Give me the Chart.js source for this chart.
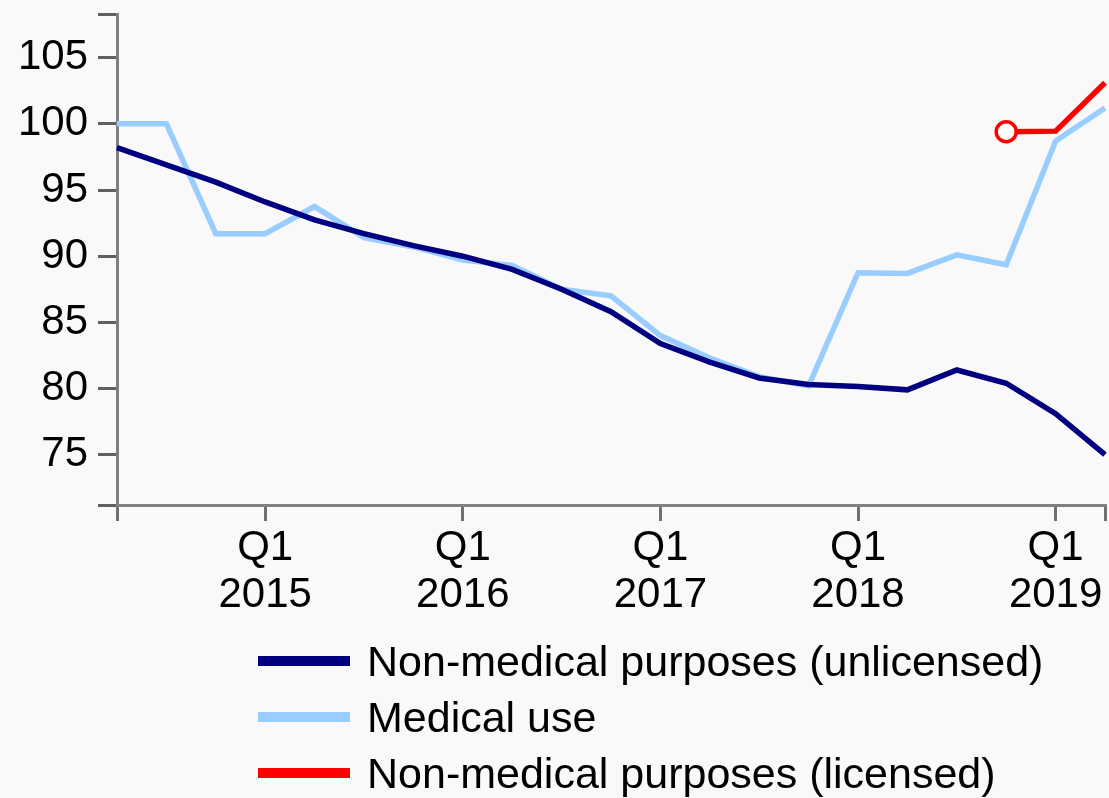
<!DOCTYPE html>
<html>
<head>
<meta charset="utf-8">
<script src="https://cdn.jsdelivr.net/npm/chart.js@4.4.1/dist/chart.umd.min.js"></script>
<style>
  html, body { margin: 0; padding: 0; background: #f9f9f9; }
  #wrap { position: relative; width: 1109px; height: 798px; }
  #legend {
    position: absolute; left: 258px; top: 633px;
    font-family: "Liberation Sans", Arial, sans-serif; font-size: 43px; color: #000;
  }
  .item { display: flex; align-items: center; height: 56px; white-space: nowrap; }
  .swatch { width: 92px; height: 10px; margin-right: 17px; }
</style>
</head>
<body>
<div id="wrap">
  <canvas id="chart" width="1109" height="798"></canvas>
  <div id="legend"></div>
</div>
<script>
// quarterly index values
const quarters = [
  'Q2 2014', 'Q3 2014', 'Q4 2014',
  'Q1 2015', 'Q2 2015', 'Q3 2015', 'Q4 2015',
  'Q1 2016', 'Q2 2016', 'Q3 2016', 'Q4 2016',
  'Q1 2017', 'Q2 2017', 'Q3 2017', 'Q4 2017',
  'Q1 2018', 'Q2 2018', 'Q3 2018', 'Q4 2018',
  'Q1 2019', 'Q2 2019'
];
const unlicensed = [98.2, 96.9, 95.6, 94.1, 92.75, 91.7, 90.8, 90.0, 89.0, 87.5, 85.8,
  83.4, 82.0, 80.8, 80.3, 80.15, 79.9, 81.4, 80.4, 78.1, 75.0];
const medical = [100, 100, 91.7, 91.7, 93.75, 91.4, 90.7, 89.7, 89.3, 87.5, 87.0,
  84.0, 82.3, 80.9, 80.2, 88.75, 88.7, 90.1, 89.35, 98.7, 101.2];
const licensed = [null, null, null, null, null, null, null, null, null, null, null,
  null, null, null, null, null, null, null, 99.4, 99.45, 103.1];
const yTicks = [75, 80, 85, 90, 95, 100, 105];
const yMin = 71.2;
const yMax = 108.3;

const FONT = '"Liberation Sans", Arial, sans-serif';
Chart.defaults.font.family = FONT;
Chart.defaults.color = '#000';

const lastIdx = quarters.length - 1;
const markIdx = quarters.map((q, i) => (q.startsWith('Q1') || i === 0 || i === lastIdx) ? i : -1)
  .filter(i => i >= 0);
const firstLicensed = licensed.findIndex(v => v !== null);

const chart = new Chart(document.getElementById('chart'), {
  type: 'line',
  data: {
    labels: quarters,
    datasets: [
      {
        label: 'Non-medical purposes (unlicensed)',
        data: unlicensed,
        borderColor: '#000080',
        backgroundColor: '#000080',
        borderWidth: 5.5,
        pointRadius: 0,
        tension: 0
      },
      {
        label: 'Medical use',
        data: medical,
        borderColor: '#99ccff',
        backgroundColor: '#99ccff',
        borderWidth: 5.5,
        pointRadius: 0,
        tension: 0
      },
      {
        label: 'Non-medical purposes (licensed)',
        data: licensed,
        borderColor: '#ff0000',
        backgroundColor: '#ff0000',
        borderWidth: 5.5,
        pointRadius: ctx => ctx.dataIndex === firstLicensed ? 10 : 0,
        pointBackgroundColor: '#ffffff',
        pointBorderColor: '#ff0000',
        pointBorderWidth: 3.5,
        tension: 0
      }
    ]
  },
  options: {
    responsive: false,
    animation: false,
    layout: { padding: { top: 14, right: 4, bottom: 183, left: 0 } },
    plugins: {
      legend: { display: false },
      tooltip: { enabled: false }
    },
    scales: {
      x: {
        type: 'category',
        offset: false,
        border: { color: '#808080', width: 3 },
        grid: {
          drawOnChartArea: false,
          tickLength: 16,
          lineWidth: 3,
          color: ctx => markIdx.includes(ctx.index) ? '#707070' : 'rgba(0,0,0,0)'
        },
        ticks: {
          autoSkip: false,
          maxRotation: 0,
          padding: 4,
          font: { size: 42, lineHeight: 1.12 },
          callback: (v, i) => {
            const q = quarters[i];
            return q.startsWith('Q1') ? q.split(' ') : '';
          }
        },
        afterFit: s => { s.height = 110; s.paddingLeft = 0; s.paddingRight = 0; }
      },
      y: {
        min: yMin,
        max: yMax,
        border: { color: '#808080', width: 3 },
        grid: {
          drawOnChartArea: false,
          tickLength: 19,
          lineWidth: 3,
          color: '#606060'
        },
        afterBuildTicks: s => {
          s.ticks = [yMin, ...yTicks, yMax].map(v => ({ value: v }));
        },
        ticks: {
          padding: 10,
          font: { size: 42 },
          callback: v => yTicks.includes(v) ? String(v) : ''
        },
        afterFit: s => { s.width = 117; s.paddingTop = 0; s.paddingBottom = 0; }
      }
    }
  }
});

// legend as a left-aligned column under the plot
const legendEl = document.getElementById('legend');
chart.data.datasets.forEach(ds => {
  const row = document.createElement('div');
  row.className = 'item';
  const sw = document.createElement('span');
  sw.className = 'swatch';
  sw.style.background = ds.borderColor;
  const txt = document.createElement('span');
  txt.textContent = ds.label;
  row.appendChild(sw);
  row.appendChild(txt);
  legendEl.appendChild(row);
});
</script>
</body>
</html>
